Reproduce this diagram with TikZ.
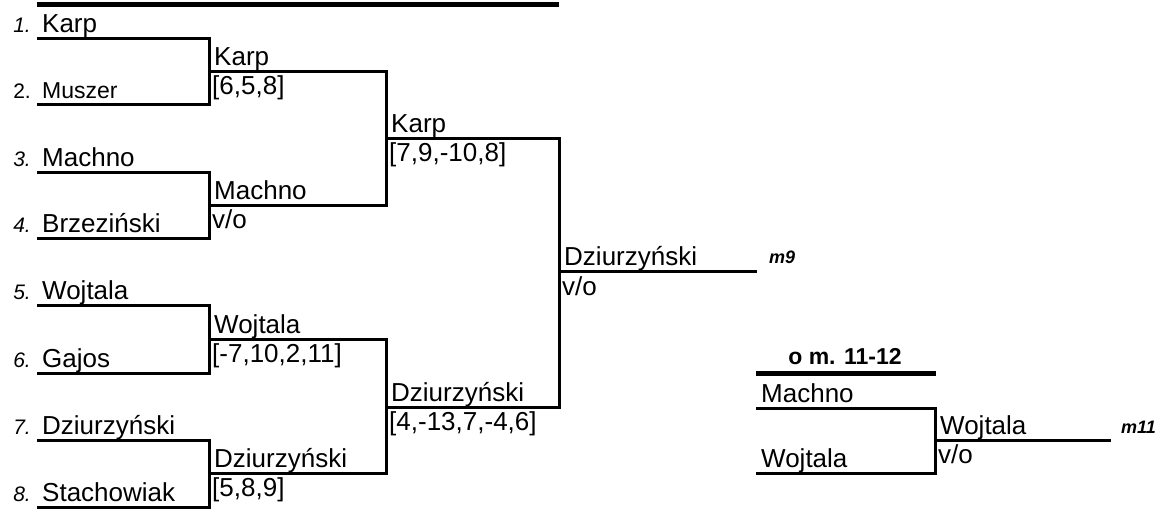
\documentclass[tikz,border=0pt]{standalone}
\usepackage{fontspec}
\setmainfont{Liberation Sans}
\usetikzlibrary{positioning, calc}

\begin{document}
\begin{tikzpicture}[x=1pt, y=-1pt,
  bline/.style={line width=3pt},
  barline/.style={line width=5pt},
  player/.style={anchor=base west, inner sep=0pt, font=\fontsize{26}{28}\selectfont},
  seed/.style={anchor=base east, inner sep=0pt, font=\fontsize{21}{22}\selectfont\itshape},
  mtag/.style={anchor=base west, inner sep=0pt, font=\fontsize{18}{19}\selectfont\bfseries\itshape}]
\useasboundingbox (0,0) rectangle (1158,510);

% Main bracket slots
\coordinate (bar1) at (37,5);
\coordinate (bar2) at (559,5);
\coordinate (p1) at (37,39);
\coordinate (p2) at (37,105);
\coordinate (p3) at (37,173);
\coordinate (p4) at (37,239);
\coordinate (p5) at (37,306);
\coordinate (p6) at (37,373);
\coordinate (p7) at (37,440);
\coordinate (p8) at (37,507);
\coordinate (q1) at (209,72);
\coordinate (q2) at (209,206);
\coordinate (q3) at (209,339);
\coordinate (q4) at (209,473);
\coordinate (s1) at (386,139);
\coordinate (s2) at (386,407);
\coordinate (f1) at (559,272);
\coordinate (f2) at (757,272);

\draw[barline] (bar1) -- (bar2);
\draw[bline] (p1) -| (q1) |- (p2);
\draw[bline] (p3) -| (q2) |- (p4);
\draw[bline] (p5) -| (q3) |- (p6);
\draw[bline] (p7) -| (q4) |- (p8);
\draw[bline] (q1) -| (s1) |- (q2);
\draw[bline] (q3) -| (s2) |- (q4);
\draw[bline] (s1) -| (f1) |- (s2);
\draw[bline] (f1) -- (f2);

% Seeds and players
\node[seed] (k1) at ([shift={(-6,-6)}]p1) {1.};
\node[seed, font=\fontsize{21}{22}\selectfont] (k2) at ([shift={(-6,-6)}]p2) {2.};
\node[seed] (k3) at ([shift={(-6,-6)}]p3) {3.};
\node[seed] (k4) at ([shift={(-6,-6)}]p4) {4.};
\node[seed] (k5) at ([shift={(-6,-6)}]p5) {5.};
\node[seed] (k6) at ([shift={(-6,-6)}]p6) {6.};
\node[seed] (k7) at ([shift={(-6,-6)}]p7) {7.};
\node[seed] (k8) at ([shift={(-6,-6)}]p8) {8.};
\node[player] (n1) at ([shift={(5,-6)}]p1) {Karp};
\node[player, font=\fontsize{23}{25}\selectfont] (n2) at ([shift={(5,-6)}]p2) {Muszer};
\node[player] (n3) at ([shift={(5,-6)}]p3) {Machno};
\node[player] (n4) at ([shift={(5,-6)}]p4) {Brzeziński};
\node[player] (n5) at ([shift={(5,-6)}]p5) {Wojtala};
\node[player] (n6) at ([shift={(5,-6)}]p6) {Gajos};
\node[player] (n7) at ([shift={(5,-6)}]p7) {Dziurzyński};
\node[player] (n8) at ([shift={(5,-6)}]p8) {Stachowiak};

% Winners and scores
\node[player] (w1) at ([shift={(5,-6)}]q1) {Karp};
\node[player] (r1) at ([shift={(3,23)}]q1) {[6,5,8]};
\node[player] (w2) at ([shift={(5,-6)}]q2) {Machno};
\node[player] (r2) at ([shift={(3,23)}]q2) {v/o};
\node[player] (w3) at ([shift={(5,-6)}]q3) {Wojtala};
\node[player] (r3) at ([shift={(3,23)}]q3) {[-7,10,2,11]};
\node[player] (w4) at ([shift={(5,-6)}]q4) {Dziurzyński};
\node[player] (r4) at ([shift={(3,23)}]q4) {[5,8,9]};
\node[player] (w5) at ([shift={(5,-6)}]s1) {Karp};
\node[player] (r5) at ([shift={(3,23)}]s1) {[7,9,-10,8]};
\node[player] (w6) at ([shift={(5,-6)}]s2) {Dziurzyński};
\node[player] (r6) at ([shift={(3,23)}]s2) {[4,-13,7,-4,6]};
\node[player] (w7) at ([shift={(5,-6)}]f1) {Dziurzyński};
\node[player] (r7) at ([shift={(3,23)}]f1) {v/o};
\node[mtag] (m9) at ([shift={(12,-8)}]f2) {m9};

% Place 11-12
\coordinate (c0) at (756,373);
\coordinate (c0e) at (936,373);
\coordinate (c1) at (756,408);
\coordinate (c2) at (756,473);
\coordinate (cw) at (935,440);
\coordinate (cw2) at (1111,440);
\node[anchor=base, inner sep=0pt, font=\fontsize{23}{24}\selectfont\bfseries] (ctitle) at (845,364) {o m. 11-12};
\draw[barline] (c0) -- (c0e);
\draw[bline] (c1) -| (cw) |- (c2);
\draw[bline] (cw) -- (cw2);
\node[player] (cn1) at ([shift={(5,-6)}]c1) {Machno};
\node[player] (cn2) at ([shift={(5,-6)}]c2) {Wojtala};
\node[player] (cw1) at ([shift={(5,-6)}]cw) {Wojtala};
\node[player] (cr1) at ([shift={(3,23)}]cw) {v/o};
\node[mtag] (m11) at ([shift={(10,-7)}]cw2) {m11};
\end{tikzpicture}
\end{document}
